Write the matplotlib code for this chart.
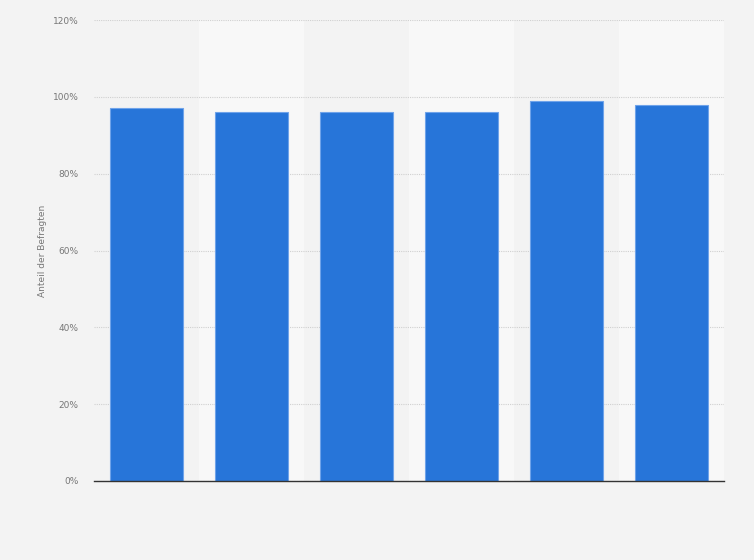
import matplotlib.pyplot as plt

# Werte (Anteil der Befragten in %)
kategorien = ['1', '2', '3', '4', '5', '6']
werte = [97, 96, 96, 96, 99, 98]
y_ticks = [0, 20, 40, 60, 80, 100, 120]
y_labels = ['0%', '20%', '40%', '60%', '80%', '100%', '120%']

fig = plt.figure(figsize=(7.54, 5.6), dpi=100, facecolor='#f3f3f3')
ax = fig.add_axes([94 / 754, 79 / 560, 630 / 754, 461 / 560])
ax.set_facecolor('#f3f3f3')

x = range(len(kategorien))
# abwechselnde Hintergrundstreifen
for i in x:
    if i % 2 == 1:
        ax.axvspan(i - 0.5, i + 0.5, color='#f8f8f8', zorder=0, lw=0)

ax.bar(x, werte, width=0.69, color='#2775d9', edgecolor='#6fa3ea', linewidth=0.8, zorder=3)

ax.set_xlim(-0.5, len(kategorien) - 0.5)
ax.set_ylim(0, 120)
ax.set_yticks(y_ticks)
ax.set_yticklabels(y_labels, fontsize=6.5, color='#777777')
ax.set_xticks([])
ax.yaxis.grid(True, linestyle=(0, (1, 1)), color='#d0d0d0', linewidth=0.8, zorder=1)
ax.tick_params(axis='y', length=0, pad=11)

for s in ['top', 'right', 'left']:
    ax.spines[s].set_visible(False)
ax.spines['bottom'].set_color('#333333')
ax.spines['bottom'].set_linewidth(1.0)
ax.spines['bottom'].set_zorder(4)

ax.set_ylabel('Anteil der Befragten', fontsize=6.5, color='#777777', labelpad=4)

fig.savefig('out.png', dpi=100, facecolor=fig.get_facecolor())
